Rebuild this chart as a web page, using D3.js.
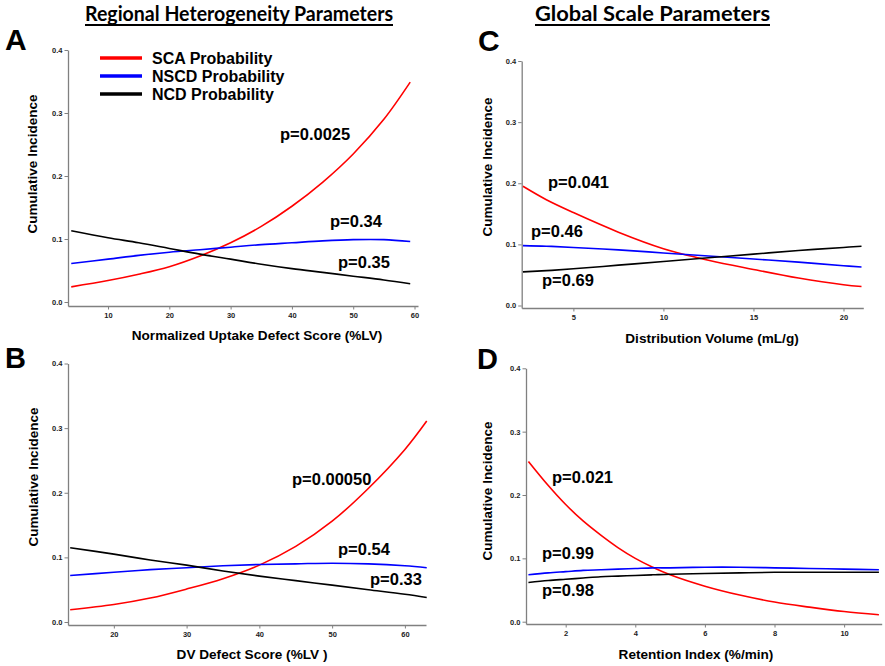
<!DOCTYPE html>
<html><head><meta charset="utf-8">
<script src="https://cdn.jsdelivr.net/npm/d3@7/dist/d3.min.js"></script>
<style>
body{margin:0;background:#fff;}
svg{display:block;font-family:"Liberation Sans",Arial,sans-serif;}
</style></head>
<body><svg id="c" width="885" height="666"></svg>
<script>
// ---------- DATA ----------
const seriesNames = ["SCA Probability", "NSCD Probability", "NCD Probability"];
const seriesColors = ["#ff0000", "#0000ff", "#000000"];

// Panel A: Normalized Uptake Defect Score (%LV)
const aX    = [4, 10, 15, 20, 25, 30, 35, 40, 45, 50, 55, 59.3];
const aSCA  = [0.024, 0.034, 0.044, 0.056, 0.073, 0.094, 0.120, 0.152, 0.190, 0.235, 0.290, 0.349];
const aNSCD = [0.061, 0.068, 0.074, 0.079, 0.083, 0.087, 0.091, 0.094, 0.097, 0.099, 0.099, 0.096];
const aNCD  = [0.113, 0.102, 0.094, 0.085, 0.076, 0.068, 0.060, 0.053, 0.047, 0.041, 0.035, 0.029];
const aXTicks = [10, 20, 30, 40, 50, 60];
const aP = ["p=0.0025", "p=0.34", "p=0.35"];

// Panel B: DV Defect Score (%LV)
const bX    = [14, 20, 25, 30, 35, 40, 45, 50, 55, 60, 63];
const bSCA  = [0.019, 0.027, 0.037, 0.051, 0.067, 0.088, 0.117, 0.156, 0.207, 0.267, 0.311];
const bNSCD = [0.072, 0.077, 0.081, 0.084, 0.087, 0.089, 0.090, 0.091, 0.090, 0.087, 0.084];
const bNCD  = [0.115, 0.105, 0.096, 0.088, 0.079, 0.071, 0.064, 0.057, 0.050, 0.043, 0.038];
const bXTicks = [20, 30, 40, 50, 60];
const bP = ["p=0.00050", "p=0.54", "p=0.33"];

// Panel C: Distribution Volume (mL/g)
const cX    = [2.2, 3.5, 5, 7.5, 10, 12.5, 15, 17.5, 20, 21];
const cSCA  = [0.195, 0.173, 0.152, 0.120, 0.093, 0.074, 0.059, 0.045, 0.034, 0.031];
const cNSCD = [0.098, 0.097, 0.095, 0.091, 0.086, 0.081, 0.076, 0.071, 0.065, 0.063];
const cNCD  = [0.055, 0.057, 0.060, 0.066, 0.072, 0.078, 0.084, 0.090, 0.095, 0.097];
const cXTicks = [5, 10, 15, 20];
const cP = ["p=0.041", "p=0.46", "p=0.69"];

// Panel D: Retention Index (%/min)
const dX    = [0.93, 1.5, 2, 2.5, 3, 3.5, 4, 4.5, 5, 6, 7, 8, 9, 10, 11];
const dSCA  = [0.253, 0.215, 0.185, 0.159, 0.137, 0.117, 0.100, 0.086, 0.074, 0.056, 0.042, 0.031, 0.023, 0.016, 0.011];
const dNSCD = [0.074, 0.077, 0.079, 0.081, 0.082, 0.083, 0.084, 0.085, 0.085, 0.086, 0.086, 0.085, 0.084, 0.083, 0.082];
const dNCD  = [0.062, 0.065, 0.067, 0.069, 0.071, 0.072, 0.073, 0.074, 0.075, 0.076, 0.077, 0.078, 0.078, 0.078, 0.078];
const dXTicks = [2, 4, 6, 8, 10];
const dP = ["p=0.021", "p=0.99", "p=0.98"];

const yTicks = [0, 0.1, 0.2, 0.3, 0.4];
const yLabel = "Cumulative Incidence";
const columnTitles = ["Regional Heterogeneity Parameters", "Global Scale Parameters"];

// ---------- LAYOUT ----------
const panels = [
  {letter:"A", x:aX, s:[aSCA,aNSCD,aNCD], ticks:aXTicks, p:aP, title:"Normalized Uptake Defect Score (%LV)",
   xDom:[3.47,60.57], xR:[68,418], yTop:50, yZero:302, axisY:306,
   letterPos:[5,50,30], yLab:[32,164], xTitle:[257,340],
   pPos:[[280,140],[330,227],[338,268]], legend:true},
  {letter:"B", x:bX, s:[bSCA,bNSCD,bNCD], ticks:bXTicks, p:bP, title:"DV Defect Score (%LV )",
   xDom:[13.7,62.9], xR:[68,426], yTop:363.5, yZero:622, axisY:625,
   letterPos:[5,368,29], yLab:[33,477], xTitle:[252,659],
   pPos:[[292,485],[338,555],[370,585]]},
  {letter:"C", x:cX, s:[cSCA,cNSCD,cNCD], ticks:cXTicks, p:cP, title:"Distribution Volume (mL/g)",
   xDom:[2.13,21.1], xR:[521.7,863.3], yTop:61, yZero:305.5, axisY:308,
   letterPos:[478,51,30], yLab:[487,167], xTitle:[712,343],
   pPos:[[548,188],[531,237],[542,286]]},
  {letter:"D", x:dX, s:[dSCA,dNSCD,dNCD], ticks:dXTicks, p:dP, title:"Retention Index (%/min)",
   xDom:[0.86,11.08], xR:[526,881.7], yTop:368.3, yZero:621.7, axisY:624,
   letterPos:[477,369,29], yLab:[487,491], xTitle:[696,659],
   pPos:[[552,483],[542,559],[542,596]]}
];

const svg = d3.select("#c");
const axisColor = "#808080";

panels.forEach(P => {
  const g = svg.append("g");
  const x = d3.scaleLinear().domain(P.xDom).range(P.xR);
  const perUnit = (P.yZero - P.yTop) / 0.4;
  const yMin = -(P.axisY - P.yZero) / perUnit;
  const y = d3.scaleLinear().domain([yMin, 0.4]).range([P.axisY, P.yTop]);

  const xa = g.append("g").attr("transform", `translate(0,${P.axisY})`)
    .call(d3.axisBottom(x).tickValues(P.ticks).tickSize(3.5).tickSizeOuter(0).tickPadding(3).tickFormat(d3.format("d")));
  const ya = g.append("g").attr("transform", `translate(${P.xR[0]},0)`)
    .call(d3.axisLeft(y).tickValues(yTicks).tickSize(3.5).tickSizeOuter(0).tickPadding(2).tickFormat(d3.format(".1f")));
  [xa, ya].forEach(a => {
    a.select(".domain").attr("stroke", axisColor).attr("stroke-width", 1.3);
    a.selectAll(".tick line").attr("stroke", axisColor).attr("stroke-width", 1);
    a.selectAll(".tick text").attr("fill", "#222").attr("font-size", 7.5).attr("font-weight", "bold")
      .attr("font-family", "'Liberation Sans', Arial, sans-serif");
  });

  const line = d3.line().x(d => x(d[0])).y(d => y(d[1])).curve(d3.curveCatmullRom.alpha(0.5));
  P.s.forEach((vals, i) => {
    const pts = P.x.map((xv, j) => [xv, vals[j]]);
    g.append("path").attr("d", line(pts)).attr("fill", "none")
      .attr("stroke", seriesColors[i]).attr("stroke-width", 1.6);
  });

  P.p.forEach((t, i) => {
    g.append("text").attr("x", P.pPos[i][0]).attr("y", P.pPos[i][1])
      .attr("font-size", 16.5).attr("font-weight", "bold").attr("fill", "#000").text(t);
  });

  g.append("text").attr("x", P.letterPos[0]).attr("y", P.letterPos[1])
    .attr("font-size", P.letterPos[2]).attr("font-weight", "bold").text(P.letter);

  g.append("text").attr("transform", `translate(${P.yLab[0]},${P.yLab[1]}) rotate(-90)`)
    .attr("text-anchor", "middle").attr("dominant-baseline", "central")
    .attr("font-size", 13.5).attr("font-weight", "bold").text(yLabel);

  g.append("text").attr("x", P.xTitle[0]).attr("y", P.xTitle[1]).attr("text-anchor", "middle")
    .attr("font-size", 13.6).attr("font-weight", "bold").text(P.title);

  if (P.legend) {
    const lg = g.append("g");
    const ly = [58, 76, 94];
    seriesNames.forEach((n, i) => {
      lg.append("line").attr("x1", 100).attr("x2", 142).attr("y1", ly[i]).attr("y2", ly[i])
        .attr("stroke", seriesColors[i]).attr("stroke-width", 3.5);
      lg.append("text").attr("x", 152).attr("y", ly[i] + 5.5).attr("font-size", 16)
        .attr("font-weight", "bold").text(n);
    });
  }
});

// column titles
const titlePos = [[85, 393], [535, 770]];
columnTitles.forEach((t, i) => {
  const [x0, x1] = titlePos[i];
  svg.append("text").attr("x", x0).attr("y", 21)
    .attr("font-family", "Lato, 'Open Sans', sans-serif").attr("font-weight", "bold")
    .attr("font-size", 21).attr("textLength", x1 - x0).attr("lengthAdjust", "spacingAndGlyphs").text(t);
  svg.append("line").attr("x1", x0).attr("x2", x1).attr("y1", 25).attr("y2", 25)
    .attr("stroke", "#000").attr("stroke-width", 1.8);
});
</script></body></html>
